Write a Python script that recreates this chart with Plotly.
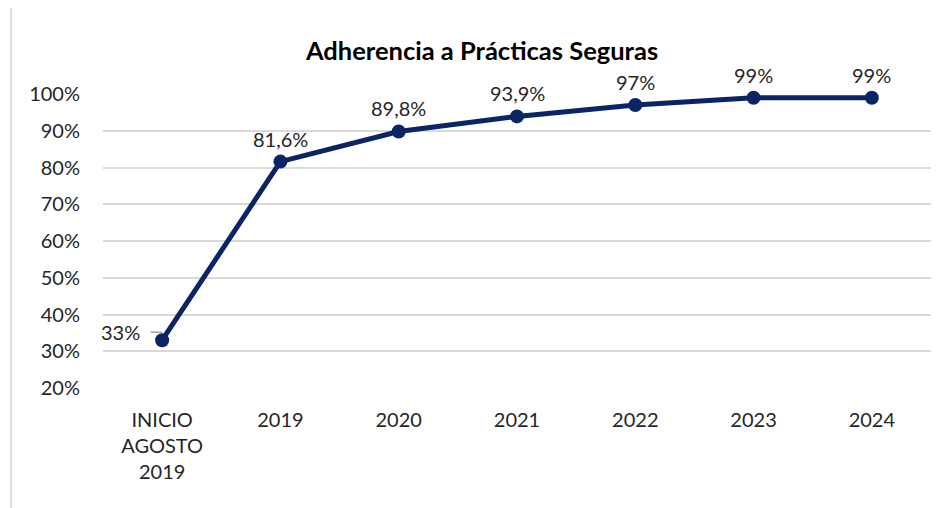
import plotly.graph_objects as go

categories = ["INICIO<br>AGOSTO<br>2019", "2019", "2020", "2021", "2022", "2023", "2024"]
values = [0.33, 0.816, 0.898, 0.939, 0.97, 0.99, 0.99]
labels = ["33%", "81,6%", "89,8%", "93,9%", "97%", "99%", "99%"]
tick_vals = [0.2, 0.3, 0.4, 0.5, 0.6, 0.7, 0.8, 0.9, 1.0]
tick_text = ["20%", "30%", "40%", "50%", "60%", "70%", "80%", "90%", "100%"]

navy = "#0a2466"
font = "Lato, Calibri, sans-serif"
txt = "#262626"

fig = go.Figure()
fig.add_trace(go.Scatter(
    x=categories, y=values,
    mode="lines+markers",
    line=dict(color=navy, width=5),
    marker=dict(color=navy, size=14),
    cliponaxis=False,
    hoverinfo="skip",
))

# data labels (x given as category index)
for i, (v, t) in enumerate(zip(values, labels)):
    if i == 0:
        # label to the left, with a short grey leader line
        fig.add_annotation(x=i, y=v, xref="x", yref="y", text=t, showarrow=False,
                           xanchor="right", xshift=-20, yshift=8,
                           font=dict(family=font, size=20, color=txt))
        fig.add_annotation(x=i, y=v, xref="x", yref="y", text="", showarrow=True,
                           arrowhead=0, arrowwidth=1.5, arrowcolor="#a6a6a6",
                           ax=-13, ay=0, yshift=8, standoff=0, startstandoff=0)
    else:
        fig.add_annotation(x=i, y=v, xref="x", yref="y", text=t, showarrow=False,
                           yanchor="bottom", yshift=9,
                           font=dict(family=font, size=20, color=txt))

# chart frame (left edge)
fig.add_shape(type="line", xref="paper", yref="paper",
              x0=-0.111, x1=-0.111, y0=-0.45, y1=1.3,
              line=dict(color="#d9d9d9", width=1.5))

fig.update_layout(
    width=948, height=508,
    margin=dict(l=95, r=25, t=86, b=128),
    paper_bgcolor="white", plot_bgcolor="white",
    showlegend=False,
    title=dict(text="<b>Adherencia a Prácticas Seguras</b>", x=0.5, xanchor="center",
               y=0.916, yanchor="middle",
               font=dict(family=font, size=25.5, color="#000000")),
    font=dict(family=font, size=20, color=txt),
)
fig.update_xaxes(type="category", categoryorder="array", categoryarray=categories,
                 range=[-0.5, len(categories) - 0.5],
                 showgrid=False, showline=False, zeroline=False,
                 ticks="", tickfont=dict(family=font, size=20, color=txt),
                 ticklabelstandoff=18)
fig.update_yaxes(range=[0.2, 1.0], tickvals=tick_vals, ticktext=tick_text,
                 showgrid=True, gridcolor="#d9d9d9", gridwidth=1.5,
                 showline=False, zeroline=False, ticks="",
                 tickfont=dict(family=font, size=20, color=txt),
                 ticklabelstandoff=22)

fig.write_html("out.html")
